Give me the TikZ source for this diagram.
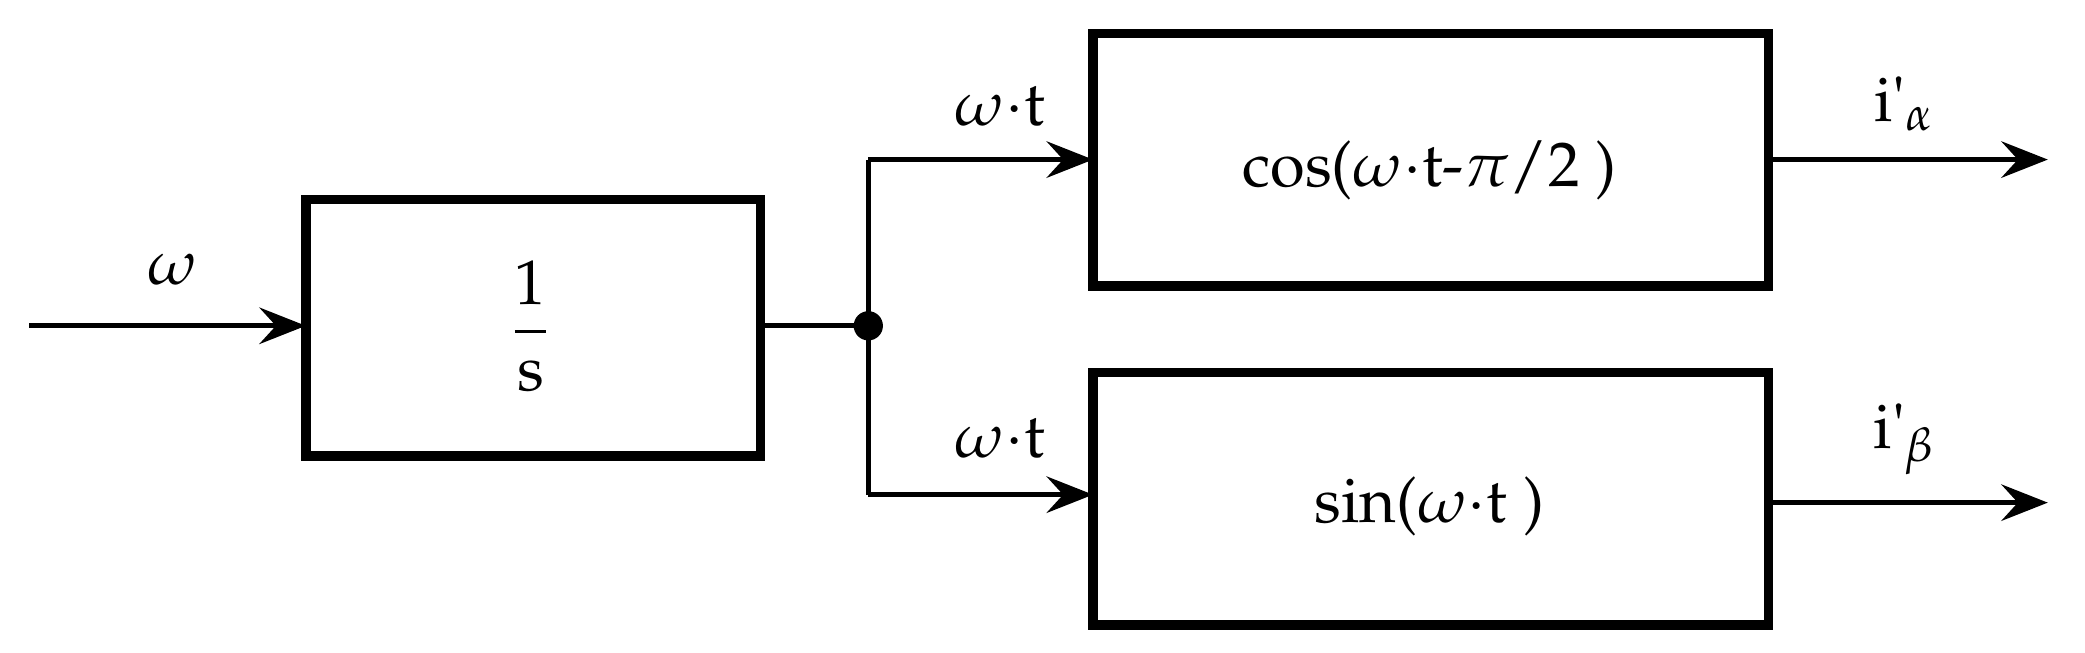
\documentclass[tikz,border=0pt]{standalone}
\usepackage[T1]{fontenc}
\usepackage{mathpazo}
\usepackage{textcomp}
\usetikzlibrary{arrows.meta}
\begin{document}
\begin{tikzpicture}[x=0.02cm,y=-0.02cm,
  blk/.style={draw,line width=4pt,minimum width=0,inner sep=0},
  ln/.style={line width=2pt},
  arr/.style={ln,-{Stealth[length=0.7cm,width=0.55cm,inset=0.25cm]}},
  lbl/.style={font=\fontsize{27}{32}\selectfont}]
\useasboundingbox (0,0) rectangle (1568,491);
\draw[blk] (230,150) rectangle (572,343);
\node[lbl] (int) at (399,245) {$\displaystyle\frac{\mathrm{1}}{\mathrm{s}}$};
\draw[blk] (822,25) rectangle (1330,215);
\node[lbl] (cos) at (1075,128) {cos($\omega$$\cdot$t-$\pi$/2 )};
\draw[blk] (822,280) rectangle (1330,470);
\node[lbl] (sin) at (1075,381) {sin($\omega$$\cdot$t )};
\coordinate (in) at (22,245);
\coordinate (a) at (230,245);
\coordinate (b) at (572,245);
\coordinate (j) at (653,245);
\coordinate (jt) at (653,120);
\coordinate (jb) at (653,372);
\coordinate (ct) at (822,120);
\coordinate (cb) at (822,372);
\coordinate (ot) at (1330,120);
\coordinate (ob) at (1330,378);
\coordinate (et) at (1540,120);
\coordinate (eb) at (1540,378);
\draw[arr] (in) -- (a);
\draw[ln] (b) -- (j);
\draw[ln] (jt) -- (jb);
\draw[arr] (jt) -- (ct);
\draw[arr] (jb) -- (cb);
\draw[arr] (ot) -- (et);
\draw[arr] (ob) -- (eb);
\fill (j) circle (11);
\node[lbl] (l1) at (130,203) {$\omega$};
\node[lbl] (l2) at (752,80) {$\omega$$\cdot$t};
\node[lbl] (l3) at (752,330) {$\omega$$\cdot$t};
\node[lbl] (l4) at (1432,78) {i\textquotesingle$_\alpha$};
\node[lbl] (l5) at (1432,330) {i\textquotesingle$_\beta$};
\end{tikzpicture}
\end{document}
